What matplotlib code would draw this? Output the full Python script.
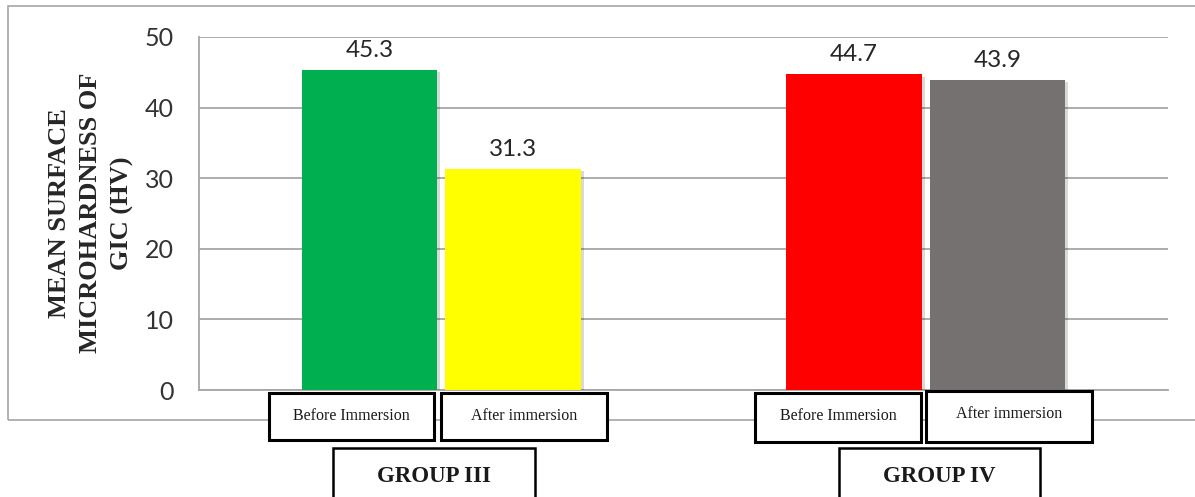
import matplotlib.pyplot as plt
import matplotlib.patheffects as pe
from matplotlib.patches import Rectangle

groups = ["GROUP III", "GROUP IV"]
conditions = ["Before Immersion", "After immersion"]
before = [45.3, 44.7]
after = [31.3, 43.9]
colors = [["#00B050", "#FFFF00"], ["#FF0000", "#767171"]]

W, H = 1195, 497
fig = plt.figure(figsize=(W / 100, H / 100), dpi=100)
ax = fig.add_axes([199 / W, 1 - 390 / H, (1168 - 199) / W, (390 - 37) / H])

# outer chart frame
fig.patches.append(Rectangle((8 / W, 1 - 420 / H), 1.2, (420 - 6) / H,
                             transform=fig.transFigure, fill=False,
                             edgecolor="#a6a6a6", lw=1.2, zorder=0))

width = 0.28
offset = 0.148
shadow = [pe.SimplePatchShadow(offset=(2, -1.5), shadow_rgbFace="black", alpha=0.15), pe.Normal()]
for i, g in enumerate(groups):
    for j, val in enumerate([before[i], after[i]]):
        x = i + (j * 2 - 1) * offset
        ax.bar(x, val, width=width, color=colors[i][j], zorder=3, path_effects=shadow)
        ax.text(x, val + 1.3, format(val, ".1f"), ha="center", va="bottom",
                fontsize=17.5, family="Lato", color="#262626", zorder=4)

ax.set_xlim(-0.5, 1.5)
ax.set_ylim(0, 50)
ax.set_yticks(range(0, 51, 10))
ax.yaxis.grid(True, color="#a6a6a6", lw=1.3, zorder=0)
ax.set_xticks([])
ax.tick_params(axis="y", length=0, pad=18, labelsize=18, labelcolor="#333333")
for t in ax.get_yticklabels():
    t.set_family("Lato")
for s in ["top", "right"]:
    ax.spines[s].set_visible(False)
for s in ["left", "bottom"]:
    ax.spines[s].set_color("#a6a6a6")
    ax.spines[s].set_linewidth(1.3)

fig.text(91 / W, 1 - 213 / H, "MEAN SURFACE\nMICROHARDNESS OF\nGIC (HV)", rotation=90,
         ha="center", va="center", fontsize=19, fontweight="bold",
         family="Liberation Serif", color="#262626", linespacing=1.45)

# category label boxes (left edge, top, width, height in pixels)
cond_boxes = [[(269, 393, 165, 47), (441, 393, 166, 47)],
              [(755, 393, 166, 49), (926, 391, 166, 51)]]
group_boxes = [(333, 448, 202, 52), (839, 448, 201, 52)]


def box(x0, y0, w, h, text, lw, fontsize, weight, dy=0.0):
    fig.patches.append(Rectangle((x0 / W, 1 - (y0 + h) / H), w / W, h / H,
                                 transform=fig.transFigure, facecolor="white",
                                 edgecolor="black", lw=lw, zorder=5))
    fig.text((x0 + w / 2) / W, 1 - (y0 + h / 2 + dy) / H, text, ha="center", va="center",
             fontsize=fontsize, fontweight=weight, family="Liberation Serif",
             color="#1a1a1a", zorder=6)


for i, g in enumerate(groups):
    for j, c in enumerate(conditions):
        x0, y0, w, h = cond_boxes[i][j]
        box(x0, y0, w, h, c, 2.2, 11.5, "normal", dy=-1 if not (i == 1 and j == 1) else -3)
    x0, y0, w, h = group_boxes[i]
    box(x0, y0, w, h, g, 1.8, 16.5, "bold", dy=2)

fig.savefig("out.png", dpi=100)
